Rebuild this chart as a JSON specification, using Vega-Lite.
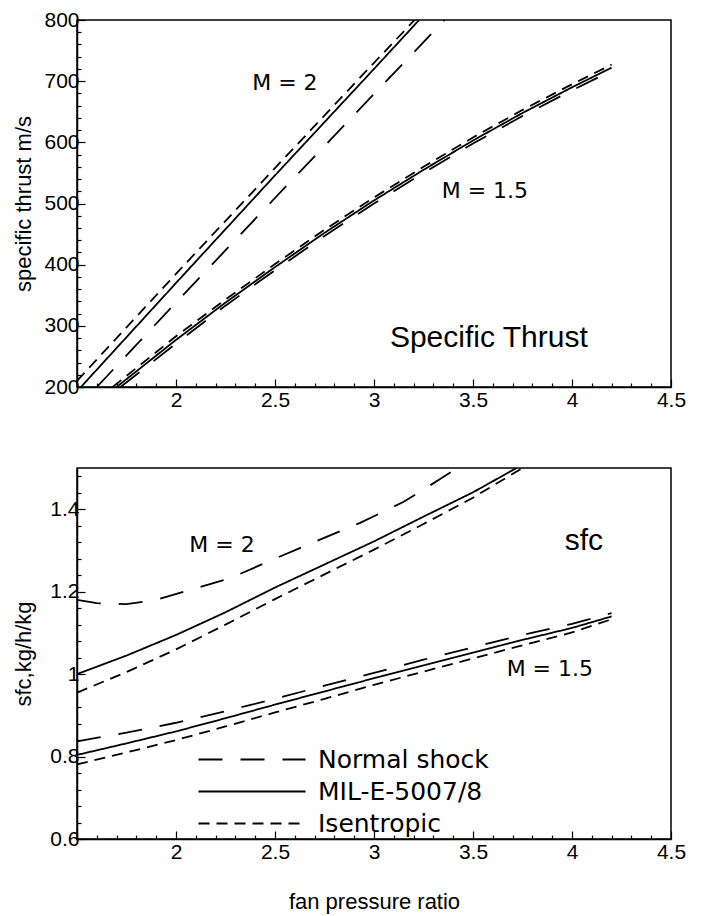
{
  "$schema": "https://vega.github.io/schema/vega-lite/v6.json",
  "background": "white",
  "padding": {"left": 12, "top": 8, "right": 5, "bottom": 5},
  "config": {
    "view": {"stroke": "black", "strokeWidth": 1.5},
    "axis": {"grid": false, "domainColor": "black", "domainWidth": 1.5, "tickColor": "black", "tickWidth": 1.2, "labelColor": "black", "titleColor": "black", "labelFlush": false, "labelOverlap": false, "labelFont": "Liberation Sans", "labelFontSize": 21, "titleFont": "Liberation Sans", "titleFontSize": 22, "titleFontWeight": "normal"}
  },
  "datasets": {
    "curves": [
      {"panel": "thrust", "mach": "M=2", "model": "Isentropic", "fpr": 1.5, "value": 210},
      {"panel": "thrust", "mach": "M=2", "model": "Isentropic", "fpr": 2.0, "value": 385},
      {"panel": "thrust", "mach": "M=2", "model": "Isentropic", "fpr": 2.5, "value": 558},
      {"panel": "thrust", "mach": "M=2", "model": "Isentropic", "fpr": 3.0, "value": 730},
      {"panel": "thrust", "mach": "M=2", "model": "Isentropic", "fpr": 3.205, "value": 800},
      {"panel": "thrust", "mach": "M=2", "model": "MIL-E-5007/8", "fpr": 1.52, "value": 200},
      {"panel": "thrust", "mach": "M=2", "model": "MIL-E-5007/8", "fpr": 2.0, "value": 370},
      {"panel": "thrust", "mach": "M=2", "model": "MIL-E-5007/8", "fpr": 2.5, "value": 546},
      {"panel": "thrust", "mach": "M=2", "model": "MIL-E-5007/8", "fpr": 3.0, "value": 720},
      {"panel": "thrust", "mach": "M=2", "model": "MIL-E-5007/8", "fpr": 3.228, "value": 800},
      {"panel": "thrust", "mach": "M=2", "model": "Normal shock", "fpr": 1.6, "value": 200},
      {"panel": "thrust", "mach": "M=2", "model": "Normal shock", "fpr": 2.0, "value": 338},
      {"panel": "thrust", "mach": "M=2", "model": "Normal shock", "fpr": 2.5, "value": 509},
      {"panel": "thrust", "mach": "M=2", "model": "Normal shock", "fpr": 3.0, "value": 679},
      {"panel": "thrust", "mach": "M=2", "model": "Normal shock", "fpr": 3.357, "value": 800},
      {"panel": "thrust", "mach": "M=1.5", "model": "Isentropic", "fpr": 1.68, "value": 200},
      {"panel": "thrust", "mach": "M=1.5", "model": "Isentropic", "fpr": 2.0, "value": 283},
      {"panel": "thrust", "mach": "M=1.5", "model": "Isentropic", "fpr": 2.25, "value": 343},
      {"panel": "thrust", "mach": "M=1.5", "model": "Isentropic", "fpr": 2.5, "value": 401},
      {"panel": "thrust", "mach": "M=1.5", "model": "Isentropic", "fpr": 2.75, "value": 457},
      {"panel": "thrust", "mach": "M=1.5", "model": "Isentropic", "fpr": 3.0, "value": 510},
      {"panel": "thrust", "mach": "M=1.5", "model": "Isentropic", "fpr": 3.25, "value": 560},
      {"panel": "thrust", "mach": "M=1.5", "model": "Isentropic", "fpr": 3.5, "value": 608},
      {"panel": "thrust", "mach": "M=1.5", "model": "Isentropic", "fpr": 3.75, "value": 653},
      {"panel": "thrust", "mach": "M=1.5", "model": "Isentropic", "fpr": 4.0, "value": 695},
      {"panel": "thrust", "mach": "M=1.5", "model": "Isentropic", "fpr": 4.2, "value": 727},
      {"panel": "thrust", "mach": "M=1.5", "model": "MIL-E-5007/8", "fpr": 1.7, "value": 200},
      {"panel": "thrust", "mach": "M=1.5", "model": "MIL-E-5007/8", "fpr": 2.0, "value": 277},
      {"panel": "thrust", "mach": "M=1.5", "model": "MIL-E-5007/8", "fpr": 2.25, "value": 338},
      {"panel": "thrust", "mach": "M=1.5", "model": "MIL-E-5007/8", "fpr": 2.5, "value": 396},
      {"panel": "thrust", "mach": "M=1.5", "model": "MIL-E-5007/8", "fpr": 2.75, "value": 452},
      {"panel": "thrust", "mach": "M=1.5", "model": "MIL-E-5007/8", "fpr": 3.0, "value": 505},
      {"panel": "thrust", "mach": "M=1.5", "model": "MIL-E-5007/8", "fpr": 3.25, "value": 555},
      {"panel": "thrust", "mach": "M=1.5", "model": "MIL-E-5007/8", "fpr": 3.5, "value": 603},
      {"panel": "thrust", "mach": "M=1.5", "model": "MIL-E-5007/8", "fpr": 3.75, "value": 648},
      {"panel": "thrust", "mach": "M=1.5", "model": "MIL-E-5007/8", "fpr": 4.0, "value": 690},
      {"panel": "thrust", "mach": "M=1.5", "model": "MIL-E-5007/8", "fpr": 4.2, "value": 722},
      {"panel": "thrust", "mach": "M=1.5", "model": "Normal shock", "fpr": 1.72, "value": 200},
      {"panel": "thrust", "mach": "M=1.5", "model": "Normal shock", "fpr": 2.0, "value": 271},
      {"panel": "thrust", "mach": "M=1.5", "model": "Normal shock", "fpr": 2.25, "value": 333},
      {"panel": "thrust", "mach": "M=1.5", "model": "Normal shock", "fpr": 2.5, "value": 391},
      {"panel": "thrust", "mach": "M=1.5", "model": "Normal shock", "fpr": 2.75, "value": 447},
      {"panel": "thrust", "mach": "M=1.5", "model": "Normal shock", "fpr": 3.0, "value": 500},
      {"panel": "thrust", "mach": "M=1.5", "model": "Normal shock", "fpr": 3.25, "value": 550},
      {"panel": "thrust", "mach": "M=1.5", "model": "Normal shock", "fpr": 3.5, "value": 598},
      {"panel": "thrust", "mach": "M=1.5", "model": "Normal shock", "fpr": 3.75, "value": 643},
      {"panel": "thrust", "mach": "M=1.5", "model": "Normal shock", "fpr": 4.0, "value": 685},
      {"panel": "thrust", "mach": "M=1.5", "model": "Normal shock", "fpr": 4.2, "value": 717},
      {"panel": "sfc", "mach": "M=2", "model": "Normal shock", "fpr": 1.5, "value": 1.18},
      {"panel": "sfc", "mach": "M=2", "model": "Normal shock", "fpr": 1.6, "value": 1.172},
      {"panel": "sfc", "mach": "M=2", "model": "Normal shock", "fpr": 1.75, "value": 1.17},
      {"panel": "sfc", "mach": "M=2", "model": "Normal shock", "fpr": 1.9, "value": 1.18},
      {"panel": "sfc", "mach": "M=2", "model": "Normal shock", "fpr": 2.04, "value": 1.2},
      {"panel": "sfc", "mach": "M=2", "model": "Normal shock", "fpr": 2.27, "value": 1.232},
      {"panel": "sfc", "mach": "M=2", "model": "Normal shock", "fpr": 2.49, "value": 1.278},
      {"panel": "sfc", "mach": "M=2", "model": "Normal shock", "fpr": 2.71, "value": 1.323},
      {"panel": "sfc", "mach": "M=2", "model": "Normal shock", "fpr": 2.93, "value": 1.367},
      {"panel": "sfc", "mach": "M=2", "model": "Normal shock", "fpr": 3.15, "value": 1.418},
      {"panel": "sfc", "mach": "M=2", "model": "Normal shock", "fpr": 3.34, "value": 1.475},
      {"panel": "sfc", "mach": "M=2", "model": "Normal shock", "fpr": 3.42, "value": 1.5},
      {"panel": "sfc", "mach": "M=2", "model": "MIL-E-5007/8", "fpr": 1.5, "value": 1.0},
      {"panel": "sfc", "mach": "M=2", "model": "MIL-E-5007/8", "fpr": 1.75, "value": 1.045},
      {"panel": "sfc", "mach": "M=2", "model": "MIL-E-5007/8", "fpr": 2.0, "value": 1.095},
      {"panel": "sfc", "mach": "M=2", "model": "MIL-E-5007/8", "fpr": 2.25, "value": 1.15},
      {"panel": "sfc", "mach": "M=2", "model": "MIL-E-5007/8", "fpr": 2.5, "value": 1.21},
      {"panel": "sfc", "mach": "M=2", "model": "MIL-E-5007/8", "fpr": 2.75, "value": 1.266},
      {"panel": "sfc", "mach": "M=2", "model": "MIL-E-5007/8", "fpr": 3.0, "value": 1.322},
      {"panel": "sfc", "mach": "M=2", "model": "MIL-E-5007/8", "fpr": 3.25, "value": 1.382},
      {"panel": "sfc", "mach": "M=2", "model": "MIL-E-5007/8", "fpr": 3.5, "value": 1.441},
      {"panel": "sfc", "mach": "M=2", "model": "MIL-E-5007/8", "fpr": 3.72, "value": 1.5},
      {"panel": "sfc", "mach": "M=2", "model": "Isentropic", "fpr": 1.5, "value": 0.955},
      {"panel": "sfc", "mach": "M=2", "model": "Isentropic", "fpr": 1.75, "value": 1.005},
      {"panel": "sfc", "mach": "M=2", "model": "Isentropic", "fpr": 2.0, "value": 1.06},
      {"panel": "sfc", "mach": "M=2", "model": "Isentropic", "fpr": 2.25, "value": 1.12},
      {"panel": "sfc", "mach": "M=2", "model": "Isentropic", "fpr": 2.5, "value": 1.182},
      {"panel": "sfc", "mach": "M=2", "model": "Isentropic", "fpr": 2.75, "value": 1.242},
      {"panel": "sfc", "mach": "M=2", "model": "Isentropic", "fpr": 3.0, "value": 1.302},
      {"panel": "sfc", "mach": "M=2", "model": "Isentropic", "fpr": 3.25, "value": 1.364},
      {"panel": "sfc", "mach": "M=2", "model": "Isentropic", "fpr": 3.5, "value": 1.428},
      {"panel": "sfc", "mach": "M=2", "model": "Isentropic", "fpr": 3.75, "value": 1.5},
      {"panel": "sfc", "mach": "M=1.5", "model": "Normal shock", "fpr": 1.5, "value": 0.837},
      {"panel": "sfc", "mach": "M=1.5", "model": "Normal shock", "fpr": 1.75, "value": 0.858},
      {"panel": "sfc", "mach": "M=1.5", "model": "Normal shock", "fpr": 2.0, "value": 0.882},
      {"panel": "sfc", "mach": "M=1.5", "model": "Normal shock", "fpr": 2.25, "value": 0.91},
      {"panel": "sfc", "mach": "M=1.5", "model": "Normal shock", "fpr": 2.5, "value": 0.94},
      {"panel": "sfc", "mach": "M=1.5", "model": "Normal shock", "fpr": 2.75, "value": 0.972},
      {"panel": "sfc", "mach": "M=1.5", "model": "Normal shock", "fpr": 3.0, "value": 1.003},
      {"panel": "sfc", "mach": "M=1.5", "model": "Normal shock", "fpr": 3.25, "value": 1.035},
      {"panel": "sfc", "mach": "M=1.5", "model": "Normal shock", "fpr": 3.5, "value": 1.065},
      {"panel": "sfc", "mach": "M=1.5", "model": "Normal shock", "fpr": 3.75, "value": 1.095},
      {"panel": "sfc", "mach": "M=1.5", "model": "Normal shock", "fpr": 4.0, "value": 1.122},
      {"panel": "sfc", "mach": "M=1.5", "model": "Normal shock", "fpr": 4.2, "value": 1.148},
      {"panel": "sfc", "mach": "M=1.5", "model": "MIL-E-5007/8", "fpr": 1.5, "value": 0.804},
      {"panel": "sfc", "mach": "M=1.5", "model": "MIL-E-5007/8", "fpr": 1.75, "value": 0.832},
      {"panel": "sfc", "mach": "M=1.5", "model": "MIL-E-5007/8", "fpr": 2.0, "value": 0.861},
      {"panel": "sfc", "mach": "M=1.5", "model": "MIL-E-5007/8", "fpr": 2.25, "value": 0.893},
      {"panel": "sfc", "mach": "M=1.5", "model": "MIL-E-5007/8", "fpr": 2.5, "value": 0.926},
      {"panel": "sfc", "mach": "M=1.5", "model": "MIL-E-5007/8", "fpr": 2.75, "value": 0.958},
      {"panel": "sfc", "mach": "M=1.5", "model": "MIL-E-5007/8", "fpr": 3.0, "value": 0.99},
      {"panel": "sfc", "mach": "M=1.5", "model": "MIL-E-5007/8", "fpr": 3.25, "value": 1.021},
      {"panel": "sfc", "mach": "M=1.5", "model": "MIL-E-5007/8", "fpr": 3.5, "value": 1.052},
      {"panel": "sfc", "mach": "M=1.5", "model": "MIL-E-5007/8", "fpr": 3.75, "value": 1.083},
      {"panel": "sfc", "mach": "M=1.5", "model": "MIL-E-5007/8", "fpr": 4.0, "value": 1.112},
      {"panel": "sfc", "mach": "M=1.5", "model": "MIL-E-5007/8", "fpr": 4.2, "value": 1.14},
      {"panel": "sfc", "mach": "M=1.5", "model": "Isentropic", "fpr": 1.5, "value": 0.781},
      {"panel": "sfc", "mach": "M=1.5", "model": "Isentropic", "fpr": 1.75, "value": 0.81},
      {"panel": "sfc", "mach": "M=1.5", "model": "Isentropic", "fpr": 2.0, "value": 0.84},
      {"panel": "sfc", "mach": "M=1.5", "model": "Isentropic", "fpr": 2.25, "value": 0.873},
      {"panel": "sfc", "mach": "M=1.5", "model": "Isentropic", "fpr": 2.5, "value": 0.907},
      {"panel": "sfc", "mach": "M=1.5", "model": "Isentropic", "fpr": 2.75, "value": 0.94},
      {"panel": "sfc", "mach": "M=1.5", "model": "Isentropic", "fpr": 3.0, "value": 0.974},
      {"panel": "sfc", "mach": "M=1.5", "model": "Isentropic", "fpr": 3.25, "value": 1.006},
      {"panel": "sfc", "mach": "M=1.5", "model": "Isentropic", "fpr": 3.5, "value": 1.038},
      {"panel": "sfc", "mach": "M=1.5", "model": "Isentropic", "fpr": 3.75, "value": 1.07},
      {"panel": "sfc", "mach": "M=1.5", "model": "Isentropic", "fpr": 4.0, "value": 1.101},
      {"panel": "sfc", "mach": "M=1.5", "model": "Isentropic", "fpr": 4.2, "value": 1.133}
    ],
    "notes": [
      {"panel": "thrust", "kind": "mach", "fpr": 2.55, "value": 697, "label": "M = 2"},
      {"panel": "thrust", "kind": "mach", "fpr": 3.56, "value": 520, "label": "M = 1.5"},
      {"panel": "thrust", "kind": "title", "fpr": 3.58, "value": 280, "label": "Specific Thrust"},
      {"panel": "sfc", "kind": "mach", "fpr": 2.232, "value": 1.314, "label": "M = 2"},
      {"panel": "sfc", "kind": "mach", "fpr": 3.888, "value": 1.012, "label": "M = 1.5"},
      {"panel": "sfc", "kind": "title", "fpr": 4.06, "value": 1.323, "label": "sfc"}
    ]
  },
  "bounds": "flush",
  "spacing": 81,
  "resolve": {"scale": {"strokeDash": "independent"}, "legend": {"strokeDash": "independent"}},
  "vconcat": [
    {
      "width": 594,
      "height": 367,
      "encoding": {
        "x": {"field": "fpr", "type": "quantitative", "scale": {"domain": [1.5, 4.5], "nice": false, "zero": false},
          "axis": {"orient": "bottom", "title": null,
            "values": [1.5,1.6,1.7,1.8,1.9,2,2.1,2.2,2.3,2.4,2.5,2.6,2.7,2.8,2.9,3,3.1,3.2,3.3,3.4,3.5,3.6,3.7,3.8,3.9,4,4.1,4.2,4.3,4.4,4.5],
            "tickSize": {"condition": {"test": "abs(datum.value*2-round(datum.value*2))<0.001", "value": -8}, "value": -4},
            "labelExpr": "abs(datum.value*2-round(datum.value*2))<0.001 && datum.value>1.6 ? format(datum.value,'~g') : ''",
            "labelOverlap": false, "labelFlush": false, "labelFont": "Liberation Sans", "labelFontSize": 21, "labelPadding": 10}},
        "y": {"field": "value", "type": "quantitative", "scale": {"domain": [200, 800], "nice": false, "zero": false},
          "axis": {"orient": "left", "title": "specific thrust m/s",
            "values": [200,220,240,260,280,300,320,340,360,380,400,420,440,460,480,500,520,540,560,580,600,620,640,660,680,700,720,740,760,780,800],
            "tickSize": {"condition": {"test": "datum.value % 100 === 0", "value": -8}, "value": -4},
            "labelExpr": "datum.value % 100 === 0 ? format(datum.value,'~g') : ''",
            "labelOverlap": false, "labelFlush": false, "labelFont": "Liberation Sans", "labelFontSize": 21,
            "titleFont": "Liberation Sans", "titleFontSize": 22, "titleFontWeight": "normal", "labelPadding": 6, "titlePadding": 8}}
      },
      "layer": [
        {
          "data": {"name": "curves"},
          "transform": [{"filter": "datum.panel === 'thrust'"}],
          "mark": {"type": "line", "color": "black", "strokeWidth": 1.8, "clip": true},
          "encoding": {
            "strokeDash": {"field": "model", "type": "nominal",
              "scale": {"domain": ["Normal shock", "MIL-E-5007/8", "Isentropic"], "range": [[24, 18], [1, 0], [11, 7]]},
              "legend": null},
            "detail": {"field": "mach"}
          }
        },
        {
          "data": {"name": "notes"},
          "transform": [{"filter": "datum.panel === 'thrust' && datum.kind === 'mach'"}],
          "mark": {"type": "text", "font": "DejaVu Sans", "fontSize": 22, "color": "black", "align": "center", "baseline": "middle"},
          "encoding": {"text": {"field": "label"}}
        },
        {
          "data": {"name": "notes"},
          "transform": [{"filter": "datum.panel === 'thrust' && datum.kind === 'title'"}],
          "mark": {"type": "text", "font": "Liberation Sans", "fontSize": 30, "color": "black", "align": "center", "baseline": "middle"},
          "encoding": {"text": {"field": "label"}}
        }
      ]
    },
    {
      "width": 594,
      "height": 371,
      "encoding": {
        "x": {"field": "fpr", "type": "quantitative", "scale": {"domain": [1.5, 4.5], "nice": false, "zero": false},
          "axis": {"orient": "bottom", "title": "fan pressure ratio",
            "values": [1.5,1.6,1.7,1.8,1.9,2,2.1,2.2,2.3,2.4,2.5,2.6,2.7,2.8,2.9,3,3.1,3.2,3.3,3.4,3.5,3.6,3.7,3.8,3.9,4,4.1,4.2,4.3,4.4,4.5],
            "tickSize": {"condition": {"test": "abs(datum.value*2-round(datum.value*2))<0.001", "value": -8}, "value": -4},
            "labelExpr": "abs(datum.value*2-round(datum.value*2))<0.001 && datum.value>1.6 ? format(datum.value,'~g') : ''",
            "labelOverlap": false, "labelFlush": false, "labelFont": "Liberation Sans", "labelFontSize": 21,
            "titleFont": "Liberation Sans", "titleFontSize": 22, "titleFontWeight": "normal", "labelPadding": 10, "titlePadding": 25}},
        "y": {"field": "value", "type": "quantitative", "scale": {"domain": [0.6, 1.5], "nice": false, "zero": false},
          "axis": {"orient": "left", "title": "sfc,kg/h/kg",
            "values": [0.6,0.64,0.68,0.72,0.76,0.8,0.84,0.88,0.92,0.96,1,1.04,1.08,1.12,1.16,1.2,1.24,1.28,1.32,1.36,1.4,1.44,1.48],
            "tickSize": {"condition": {"test": "abs(datum.value*5-round(datum.value*5))<0.001", "value": -8}, "value": -4},
            "labelExpr": "abs(datum.value*5-round(datum.value*5))<0.001 ? format(datum.value,'~g') : ''",
            "labelOverlap": false, "labelFlush": false, "labelFont": "Liberation Sans", "labelFontSize": 21,
            "titleFont": "Liberation Sans", "titleFontSize": 22, "titleFontWeight": "normal", "labelPadding": 6, "titlePadding": 14}}
      },
      "layer": [
        {
          "data": {"name": "curves"},
          "transform": [{"filter": "datum.panel === 'sfc'"}],
          "mark": {"type": "line", "color": "black", "strokeWidth": 1.8, "clip": true},
          "encoding": {
            "strokeDash": {"field": "model", "type": "nominal",
              "scale": {"domain": ["Normal shock", "MIL-E-5007/8", "Isentropic"], "range": [[24, 18], [1, 0], [11, 7]]},
              "legend": {"orient": "none", "legendX": 119, "legendY": 279, "title": null, "padding": 0,
                "symbolType": "M-1,0H9.7", "symbolSize": 400, "symbolStrokeWidth": 1.8, "symbolStrokeColor": "black", "symbolFillColor": "transparent",
                "labelFont": "DejaVu Sans", "labelFontSize": 25, "labelColor": "black", "labelOffset": 97, "rowPadding": 6, "labelLimit": 400}},
            "detail": {"field": "mach"}
          }
        },
        {
          "data": {"name": "notes"},
          "transform": [{"filter": "datum.panel === 'sfc' && datum.kind === 'mach'"}],
          "mark": {"type": "text", "font": "DejaVu Sans", "fontSize": 22, "color": "black", "align": "center", "baseline": "middle"},
          "encoding": {"text": {"field": "label"}}
        },
        {
          "data": {"name": "notes"},
          "transform": [{"filter": "datum.panel === 'sfc' && datum.kind === 'title'"}],
          "mark": {"type": "text", "font": "Liberation Sans", "fontSize": 30, "color": "black", "align": "center", "baseline": "middle"},
          "encoding": {"text": {"field": "label"}}
        }
      ]
    }
  ]
}
